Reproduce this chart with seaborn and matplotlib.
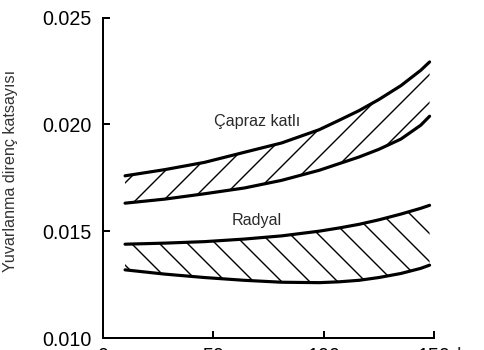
import numpy as np
import pandas as pd
import matplotlib
matplotlib.use("Agg")
import matplotlib.pyplot as plt
import seaborn as sns

# speed (km/h)
speed = [10, 28, 46, 64, 81, 98, 107, 116, 125, 135, 144, 148]
# cross-ply (Çapraz katlı) band
capraz_upper = [0.01759, 0.01788, 0.01822, 0.01869, 0.01913, 0.01975,
                0.02019, 0.02064, 0.02116, 0.02181, 0.02253, 0.02292]
capraz_lower = [0.01631, 0.01650, 0.01675, 0.01702, 0.01738, 0.01785,
                0.01816, 0.01847, 0.01883, 0.01931, 0.01996, 0.02038]
# radial (Radyal) band
radyal_upper = [0.01439, 0.01444, 0.01451, 0.01463, 0.01478, 0.01500,
                0.01515, 0.01532, 0.01553, 0.01580, 0.01607, 0.01621]
radyal_lower = [0.01319, 0.01299, 0.01283, 0.01270, 0.01261, 0.01259,
                0.01263, 0.01270, 0.01283, 0.01302, 0.01326, 0.01341]

x_ticks = [0, 50, 100, 150]
x_ticklabels = ["0", "50", "100", "150"]
y_ticks = [0.010, 0.015, 0.020, 0.025]
y_ticklabels = ["0.010", "0.015", "0.020", "0.025"]

DPI = 168
W, H = 484, 350

sns.set_theme(style="ticks")
plt.rcParams["font.family"] = ["Liberation Sans", "DejaVu Sans"]
plt.rcParams["hatch.linewidth"] = 0.6

fig = plt.figure(figsize=(W / DPI, H / DPI), dpi=DPI)
ax_h_px = 338 - 17.5
ax = fig.add_axes([103 / W, 1 - 338 / H, (434 - 103) / W, ax_h_px / H])

n = len(speed)
df = pd.DataFrame({
    "speed": speed * 4,
    "value": capraz_upper + capraz_lower + radyal_upper + radyal_lower,
    "curve": ["cu"] * n + ["cl"] * n + ["ru"] * n + ["rl"] * n,
})

ax.fill_between(speed, capraz_lower, capraz_upper, facecolor="none",
                edgecolor="black", hatch="//", linewidth=0)
ax.fill_between(speed, radyal_lower, radyal_upper, facecolor="none",
                edgecolor="black", hatch="\\\\", linewidth=0)

sns.lineplot(data=df, x="speed", y="value", units="curve", estimator=None,
             color="black", linewidth=1.35, ax=ax, legend=False)
for ln in ax.get_lines():
    ln.set_solid_joinstyle("round")
    ln.set_solid_capstyle("round")

ax.text(69.8, 0.02013, "Çapraz katlı", ha="center", va="center",
        fontsize=6.9, color="#2a2a2a")
ax.text(69.8, 0.01548, "Radyal", ha="center", va="center",
        fontsize=6.9, color="#2a2a2a")

ax.set_xlim(0, 150)
ax.set_ylim(0.010, 0.025)
ax.set_xticks(x_ticks)
ax.set_xticklabels(x_ticklabels)
ax.set_yticks(y_ticks)
ax.set_yticklabels(y_ticklabels)
x_pad = 3.9
ax.tick_params(axis="both", direction="in", length=3, width=0.85,
               labelsize=8.4, pad=5, colors="black")
ax.tick_params(axis="x", pad=x_pad)
for s in ["top", "right"]:
    ax.spines[s].set_visible(False)
for s in ["left", "bottom"]:
    ax.spines[s].set_linewidth(0.85)
    ax.spines[s].set_color("black")

ax.set_xlabel("km/h", fontsize=8.4, ha="left")
ax.xaxis.set_label_coords((457 - 103) / (434 - 103),
                          -(x_pad * DPI / 72) / ax_h_px)
ax.xaxis.label.set_va("top")
ax.set_ylabel("Yuvarlanma direnç katsayısı", fontsize=6.9, color="#333333")
ax.yaxis.set_label_coords((18 - 103) / (434 - 103), (338 - 171) / ax_h_px)

fig.savefig("out.png", dpi=DPI)
